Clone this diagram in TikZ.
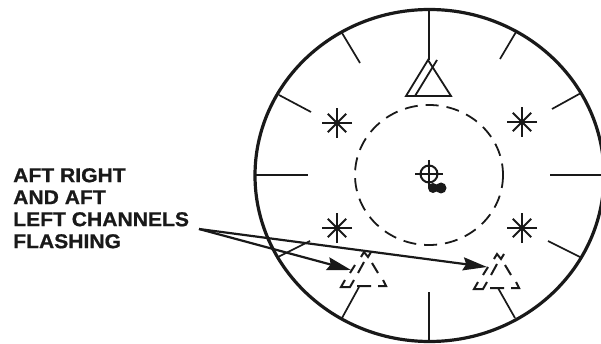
\documentclass[tikz,border=0pt]{standalone}
\usepackage{fontspec}
\setmainfont{Liberation Sans}[BoldFeatures={FakeStretch=1.055,FakeBold=0.8}]
\usetikzlibrary{arrows.meta}
\definecolor{ink}{gray}{0.1}
\tikzset{
  ring/.style={line width=3.2pt,ink},
  tick/.style={line width=1.7pt,ink},
  dashring/.style={line width=1.8pt,ink,dash pattern=on 13pt off 8pt},
  tri/.style={line width=1.8pt,ink,line join=miter},
  ghost/.style={line width=2pt,ink,line join=miter},
  pointer/.style={line width=2.2pt,ink,-{Stealth[length=24pt,width=13pt,inset=3pt]}},
  starline/.style={line width=1.8pt,ink},
  lbl/.style={font=\fontsize{20}{22}\bfseries\selectfont,align=left,inner sep=0pt,anchor=north west,text=ink}
}
\newcommand{\eightstar}[2]{%
  \foreach \a/\l in {0/15,45/13,90/15,135/13}{\draw[starline] ([shift={(\a:\l)}]#1,#2) -- ([shift={(\a+180:\l)}]#1,#2);}
  \fill[ink] (#1,#2) circle[radius=3];}
\newcommand{\ghosttri}[2]{%
  \draw[ghost,shift={(#1,#2)}]
    (350,273) -- (355,265)
    (358,273) -- (364,262)
    (372,263) -- (378,273)
    (361,257) -- (364,252) -- (368,257) -- (371,252)
    (345,280) -- (341,287) -- (350,287) -- (354,280)
    (357,286) -- (371,286)
    (378,286) -- (386,286) -- (383,280);}
\begin{document}
\begin{tikzpicture}[x=1pt,y=-1pt]
\useasboundingbox (0,0) rectangle (601,344);
\draw[ring] (429.5,175.5) ellipse[x radius=174.5,y radius=166];
\foreach \xa/\ya/\xb/\yb in {
  429/9/429/60, 429/292/429/341, 256/175/308/175, 550/175/601/175,
  342/33/360/63, 516/32/500/59, 279/95/311/112, 581/93/552/109,
  278/257/310/241, 582/258/548/241, 342/318/359/287, 515/318/498/288}{
  \draw[tick] (\xa,\ya) -- (\xb,\yb);
}
\draw[dashring] (429,175) ellipse[x radius=74,y radius=70];
% solid triangle
\draw[tri] (406,96) -- (428,60) -- (451,96) -- cycle;
\draw[tri] (415,96) -- (437,60);
% stars
\eightstar{337}{123}
\eightstar{522}{122}
\eightstar{337}{228}
\eightstar{522}{228}
% reticle
\draw[line width=2pt,ink] (429,174) circle[radius=8.5];
\draw[line width=1.6pt,ink] (415,174) -- (443,174) (429,160) -- (429,188);
\fill[ink] (433,188) circle[radius=5] (441,188) circle[radius=5.5];
% dashed triangles
\ghosttri{0}{0}
\ghosttri{133}{2}
% label
\node[lbl] (label) at (13,168) {AFT RIGHT\\AND AFT\\LEFT CHANNELS\\FLASHING};
\coordinate (origin) at (199,229);
\coordinate (leftghost) at (351,270);
\coordinate (rightghost) at (487,267);
\draw[pointer] (origin) -- (leftghost);
\draw[pointer] (origin) -- (rightghost);
\end{tikzpicture}
\end{document}
